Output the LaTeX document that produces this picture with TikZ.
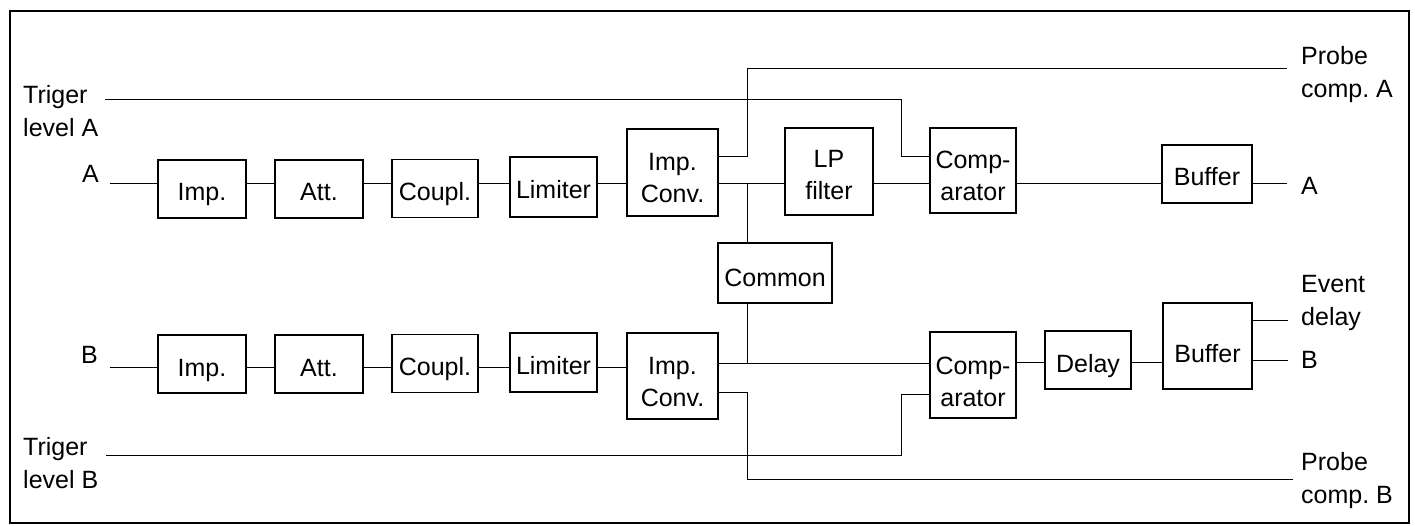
\documentclass[tikz,border=0pt]{standalone}
\usepackage{fontspec}
\setmainfont{Liberation Sans}
\begin{document}
\frenchspacing
\begin{tikzpicture}[x=1pt,y=-1pt,
  box/.style={draw,line width=1.6pt,inner sep=0pt,align=center,font=\fontsize{25}{32}\selectfont,text height=24pt,text depth=0pt},
  box2/.style={box,text height=60pt},
  lbl/.style={inner sep=0pt,align=left,font=\fontsize{25}{33}\selectfont},
  wire/.style={line width=1pt}]
\useasboundingbox (0,0) rectangle (1415,526);
\draw[line width=1.8pt] (10,11) rectangle (1409,523);

% row A
\node[box,minimum width=88pt,minimum height=58pt] (impA) at (202,189) {Imp.};
\node[box,minimum width=88pt,minimum height=58pt] (attA) at (319,189) {Att.};
\node[box,minimum width=86pt,minimum height=58pt] (coupA) at (435,188.5) {Coupl.};
\node[box,minimum width=87pt,minimum height=60pt] (limA) at (553.5,187) {Limiter};
\node[box2,minimum width=91pt,minimum height=87pt] (icA) at (672.5,172.5) {Imp.\\Conv.};
\node[box2,minimum width=88pt,minimum height=87pt,text height=56pt] (lpA) at (829,171.5) {LP\\filter};
\node[box2,minimum width=86pt,minimum height=85pt] (cmpA) at (973,170.5) {Comp-\\arator};
\node[box,minimum width=90pt,minimum height=58pt] (bufA) at (1207,174) {Buffer};
\node[box,minimum width=114pt,minimum height=60pt,text height=27pt] (common) at (775,273) {Common};

% row B
\node[box,minimum width=88pt,minimum height=58pt] (impB) at (202,364) {Imp.};
\node[box,minimum width=88pt,minimum height=58pt] (attB) at (319,364) {Att.};
\node[box,minimum width=86pt,minimum height=58pt] (coupB) at (435,363.5) {Coupl.};
\node[box,minimum width=87pt,minimum height=59pt] (limB) at (553.5,362.5) {Limiter};
\node[box2,minimum width=91pt,minimum height=86pt] (icB) at (672.5,376) {Imp.\\Conv.};
\node[box2,minimum width=86pt,minimum height=86pt,text height=63pt] (cmpB) at (973,375) {Comp-\\arator};
\node[box,minimum width=86pt,minimum height=58pt] (delay) at (1088,360) {Delay};
\node[box,minimum width=89pt,minimum height=86pt,text height=32pt] (bufB) at (1207.5,346) {Buffer};

% labels
\node[lbl,anchor=north west] (trigA) at (23,85) {Triger\\level A};
\node[lbl,anchor=base east] (lA) at (99,183) {A};
\node[lbl,anchor=base east] (lB) at (98,363) {B};
\node[lbl,anchor=north west] (trigB) at (23,437) {Triger\\level B};
\node[lbl,anchor=north west] (probeA) at (1301,46) {Probe\\comp. A};
\node[lbl,anchor=base west] (oA) at (1301,195) {A};
\node[lbl,anchor=north west] (evt) at (1301,275) {Event\\delay};
\node[lbl,anchor=base west] (oB) at (1301,368) {B};
\node[lbl,anchor=north west] (probeB) at (1301,452) {Probe\\comp. B};

% coordinates
\coordinate (inA) at (110,184);
\coordinate (endA) at (1287,184);
\coordinate (tA0) at (105,100);
\coordinate (tA1) at (901,100);
\coordinate (tA2) at (901,157);
\coordinate (pA0) at (747,157);
\coordinate (pA1) at (747,69);
\coordinate (pA2) at (1287,69);
\coordinate (jA) at (747,184);
\coordinate (jB) at (747,363);
\coordinate (inB) at (110,367);
\coordinate (pB0) at (747,392);
\coordinate (pB1) at (747,479);
\coordinate (pB2) at (1293,479);
\coordinate (tB0) at (106,455);
\coordinate (tB1) at (901,455);
\coordinate (tB2) at (901,394);
\coordinate (evE) at (1288,321);
\coordinate (bE) at (1288,360);
\coordinate (dl) at (0,362);

% wires row A
\draw[wire] (inA) -- (inA -| impA.west);
\draw[wire] (impA.east |- inA) -- (attA.west |- inA);
\draw[wire] (attA.east |- inA) -- (coupA.west |- inA);
\draw[wire] (coupA.east |- inA) -- (limA.west |- inA);
\draw[wire] (limA.east |- inA) -- (icA.west |- inA);
\draw[wire] (icA.east |- inA) -- (lpA.west |- inA);
\draw[wire] (lpA.east |- inA) -- (cmpA.west |- inA);
\draw[wire] (cmpA.east |- inA) -- (bufA.west |- inA);
\draw[wire] (bufA.east |- endA) -- (endA);
\draw[wire] (tA0) -- (tA1) -- (tA2) -- (tA2 -| cmpA.west);
\draw[wire] (pA0 -| icA.east) -- (pA0) -- (pA1) -- (pA2);
\draw[wire] (jA) -- (jA |- common.north);
\draw[wire] (jB |- common.south) -- (jB);

% wires row B
\draw[wire] (inB) -- (inB -| impB.west);
\draw[wire] (impB.east |- inB) -- (attB.west |- inB);
\draw[wire] (attB.east |- inB) -- (coupB.west |- inB);
\draw[wire] (coupB.east |- inB) -- (limB.west |- inB);
\draw[wire] (limB.east |- inB) -- (icB.west |- inB);
\draw[wire] (icB.east |- jB) -- (cmpB.west |- jB);
\draw[wire] (pB0 -| icB.east) -- (pB0) -- (pB1) -- (pB2);
\draw[wire] (tB0) -- (tB1) -- (tB2) -- (tB2 -| cmpB.west);
\draw[wire] (cmpB.east |- dl) -- (delay.west |- dl);
\draw[wire] (delay.east |- dl) -- (bufB.west |- dl);
\draw[wire] (bufB.east |- bE) -- (bE);
\draw[wire] (bufB.east |- evE) -- (evE);
\end{tikzpicture}
\end{document}
